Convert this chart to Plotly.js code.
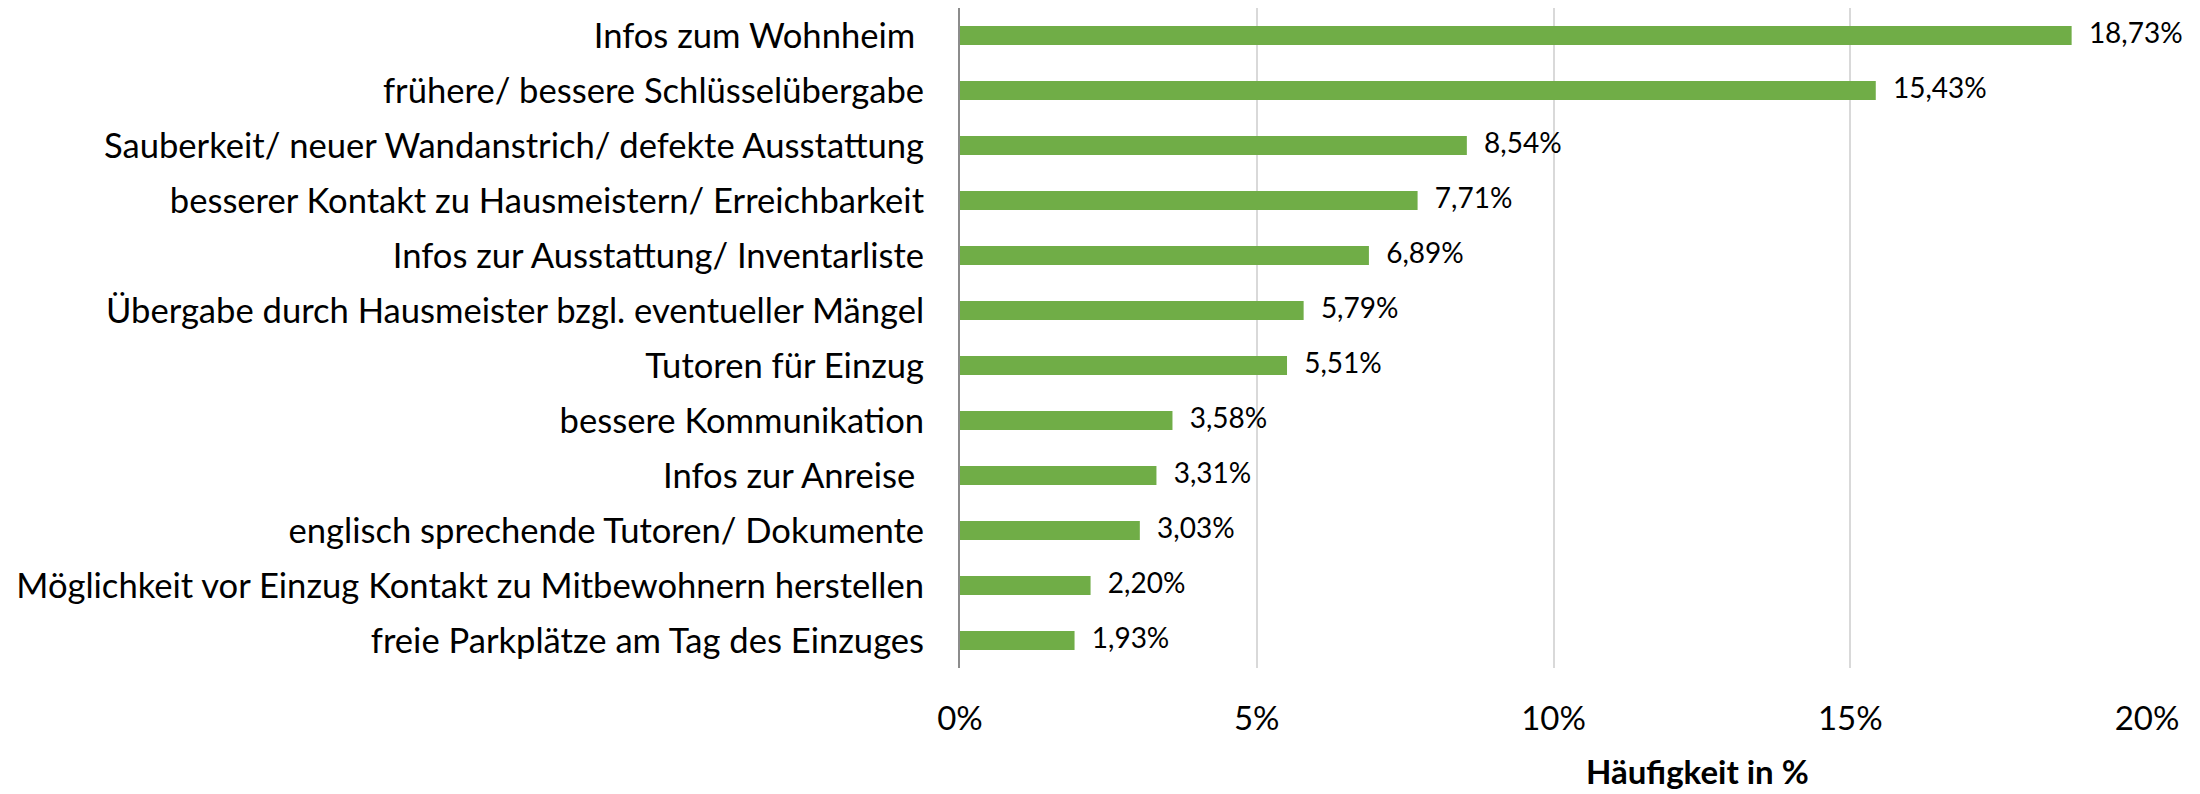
<!DOCTYPE html>
<html>
<head>
<meta charset="utf-8">
<script src="https://cdn.plot.ly/plotly-3.0.1.min.js"></script>
<style>html,body{margin:0;padding:0;background:#fff;}#chart{width:2200px;height:794px;}</style>
</head>
<body>
<div id="chart"></div>
<script>
var categories = [
  "Infos zum Wohnheim\u00a0",
  "frühere/ bessere Schlüsselübergabe",
  "Sauberkeit/ neuer Wandanstrich/ defekte Ausstattung",
  "besserer Kontakt zu Hausmeistern/ Erreichbarkeit",
  "Infos zur Ausstattung/ Inventarliste",
  "Übergabe durch Hausmeister bzgl. eventueller Mängel",
  "Tutoren für Einzug",
  "bessere Kommunikation",
  "Infos zur Anreise\u00a0",
  "englisch sprechende Tutoren/ Dokumente",
  "Möglichkeit vor Einzug Kontakt zu Mitbewohnern herstellen",
  "freie Parkplätze am Tag des Einzuges"
];
var values = [18.73, 15.43, 8.54, 7.71, 6.89, 5.79, 5.51, 3.58, 3.31, 3.03, 2.20, 1.93];
var valueLabels = ["18,73%", "15,43%", "8,54%", "7,71%", "6,89%", "5,79%", "5,51%", "3,58%", "3,31%", "3,03%", "2,20%", "1,93%"];
var tickValues = [0, 5, 10, 15, 20];
var tickLabels = ["0%", "5%", "10%", "15%", "20%"];
var axisTitle = "Häufigkeit in %";

var FONT = "Lato, 'Open Sans', sans-serif";

var traces = [
  {
    type: "bar",
    orientation: "h",
    x: values,
    y: categories,
    width: 0.345,
    marker: {color: "#70AD47"},
    hoverinfo: "x+y"
  },
  {
    type: "scatter",
    mode: "markers+text",
    x: values,
    y: categories,
    text: valueLabels,
    textposition: "middle right",
    textfont: {family: FONT, size: 28, color: "#000"},
    marker: {size: 26, opacity: 0},
    hoverinfo: "skip",
    cliponaxis: false
  }
];

var layout = {
  width: 2200,
  height: 794,
  margin: {l: 960, r: 53, t: 8, b: 126},
  paper_bgcolor: "#fff",
  plot_bgcolor: "#fff",
  showlegend: false,
  font: {family: FONT, color: "#000"},
  xaxis: {
    range: [0, 20],
    tickvals: tickValues,
    ticktext: tickLabels,
    showgrid: true,
    gridcolor: "#d9d9d9",
    gridwidth: 2,
    zeroline: false,
    showline: false,
    ticks: "",
    ticklabelstandoff: 28,
    tickfont: {family: FONT, size: 33, color: "#000"},
    fixedrange: true
  },
  yaxis: {
    type: "category",
    categoryorder: "array",
    categoryarray: categories,
    range: [categories.length - 0.5, -0.5],
    autorange: false,
    showgrid: false,
    zeroline: false,
    showline: true,
    linecolor: "#8c8c8c",
    linewidth: 2,
    ticks: "",
    ticklabelstandoff: 27,
    tickfont: {family: FONT, size: 34.6, color: "#000"},
    fixedrange: true
  },
  annotations: [
    {
      text: "<b>" + axisTitle + "</b>",
      xref: "paper", yref: "paper",
      x: 0.6217, y: -0.1560,
      xanchor: "center", yanchor: "middle",
      showarrow: false,
      font: {family: FONT, size: 33, color: "#000"}
    }
  ]
};

Plotly.newPlot("chart", traces, layout, {displayModeBar: false, staticPlot: true});
</script>
</body>
</html>
